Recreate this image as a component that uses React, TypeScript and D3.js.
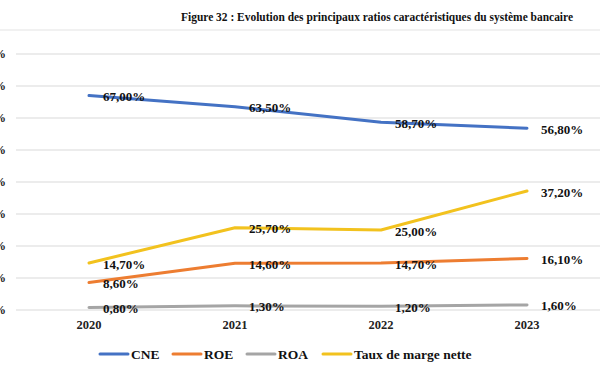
import React from "react";
import { scaleBand, scaleLinear, line } from "d3";

const years = ["2020", "2021", "2022", "2023"];
const cne = [67.0, 63.5, 58.7, 56.8];
const roe = [8.6, 14.6, 14.7, 16.1];
const roa = [0.8, 1.3, 1.2, 1.6];
const tauxMarge = [14.7, 25.7, 25.0, 37.2];
const yTicks = [0, 10, 20, 30, 40, 50, 60, 70, 80];

const seriesNames = ["CNE", "ROE", "ROA", "Taux de marge nette"];
const seriesValues = [cne, roe, roa, tauxMarge];
const colors = ["#4472C4", "#ED7D31", "#A5A5A5", "#F2C21E"];

const fmt = (v: number) => v.toFixed(2).replace(".", ",") + "%";
const font = "'Liberation Serif', 'DejaVu Serif', serif";

export const App = () => {
  const width = 600;
  const height = 372;
  const margin = { top: 54, right: 0, bottom: 62, left: 16 };
  const innerBottom = height - margin.bottom;

  const xScale = scaleBand<string>()
    .domain(years)
    .range([margin.left, width - margin.right]);
  const yScale = scaleLinear().domain([0, 80]).range([innerBottom, margin.top]);
  const xc = (d: string) => (xScale(d) ?? 0) + xScale.bandwidth() / 2;

  const pathGen = line<number>()
    .x((_, i) => xc(years[i]))
    .y((d) => yScale(d));

  const legendX = [100, 173, 247, 323];

  return (
    <svg
      width={width}
      height={height}
      style={{ position: "absolute", left: 0, top: 0, background: "#fff" }}
      fontFamily={font}
      fontWeight="bold"
    >
      <text x={181} y={21} fontSize={13.5} textLength={392} lengthAdjust="spacingAndGlyphs" fill="#111">
        Figure 32 :  Evolution des principaux ratios caractéristiques du système bancaire
      </text>
      <line x1={0} x2={width} y1={30} y2={30} stroke="#e3e3e3" />

      {yTicks.map((t) => (
        <g key={t}>
          <line x1={margin.left} x2={width} y1={yScale(t)} y2={yScale(t)} stroke="#d9d9d9" />
          <text x={6} y={yScale(t)} dy="0.35em" textAnchor="end" fontSize={12.5} fill="#222">
            {t}%
          </text>
        </g>
      ))}

      {years.map((y) => (
        <text key={y} x={xc(y)} y={innerBottom + 19} textAnchor="middle" fontSize={12.5} fill="#222">
          {y}
        </text>
      ))}

      {seriesValues.map((vals, s) => (
        <path
          key={seriesNames[s]}
          d={pathGen(vals) ?? ""}
          fill="none"
          stroke={colors[s]}
          strokeWidth={3}
          strokeLinecap="round"
          strokeLinejoin="round"
        />
      ))}

      {seriesValues.map((vals, s) =>
        vals.map((v, i) => (
          <text
            key={seriesNames[s] + i}
            x={xc(years[i]) + 14}
            y={yScale(v) + 1}
            dy="0.35em"
            fontSize={13}
            fill="#111"
          >
            {fmt(v)}
          </text>
        ))
      )}

      {seriesNames.map((name, s) => (
        <g key={name} transform={`translate(${legendX[s]},354)`}>
          <line x1={0} x2={28} y1={0} y2={0} stroke={colors[s]} strokeWidth={3} strokeLinecap="round" />
          <text x={31} y={0} dy="0.35em" fontSize={13.5} fill="#111">
            {name}
          </text>
        </g>
      ))}
    </svg>
  );
};

export default App;
